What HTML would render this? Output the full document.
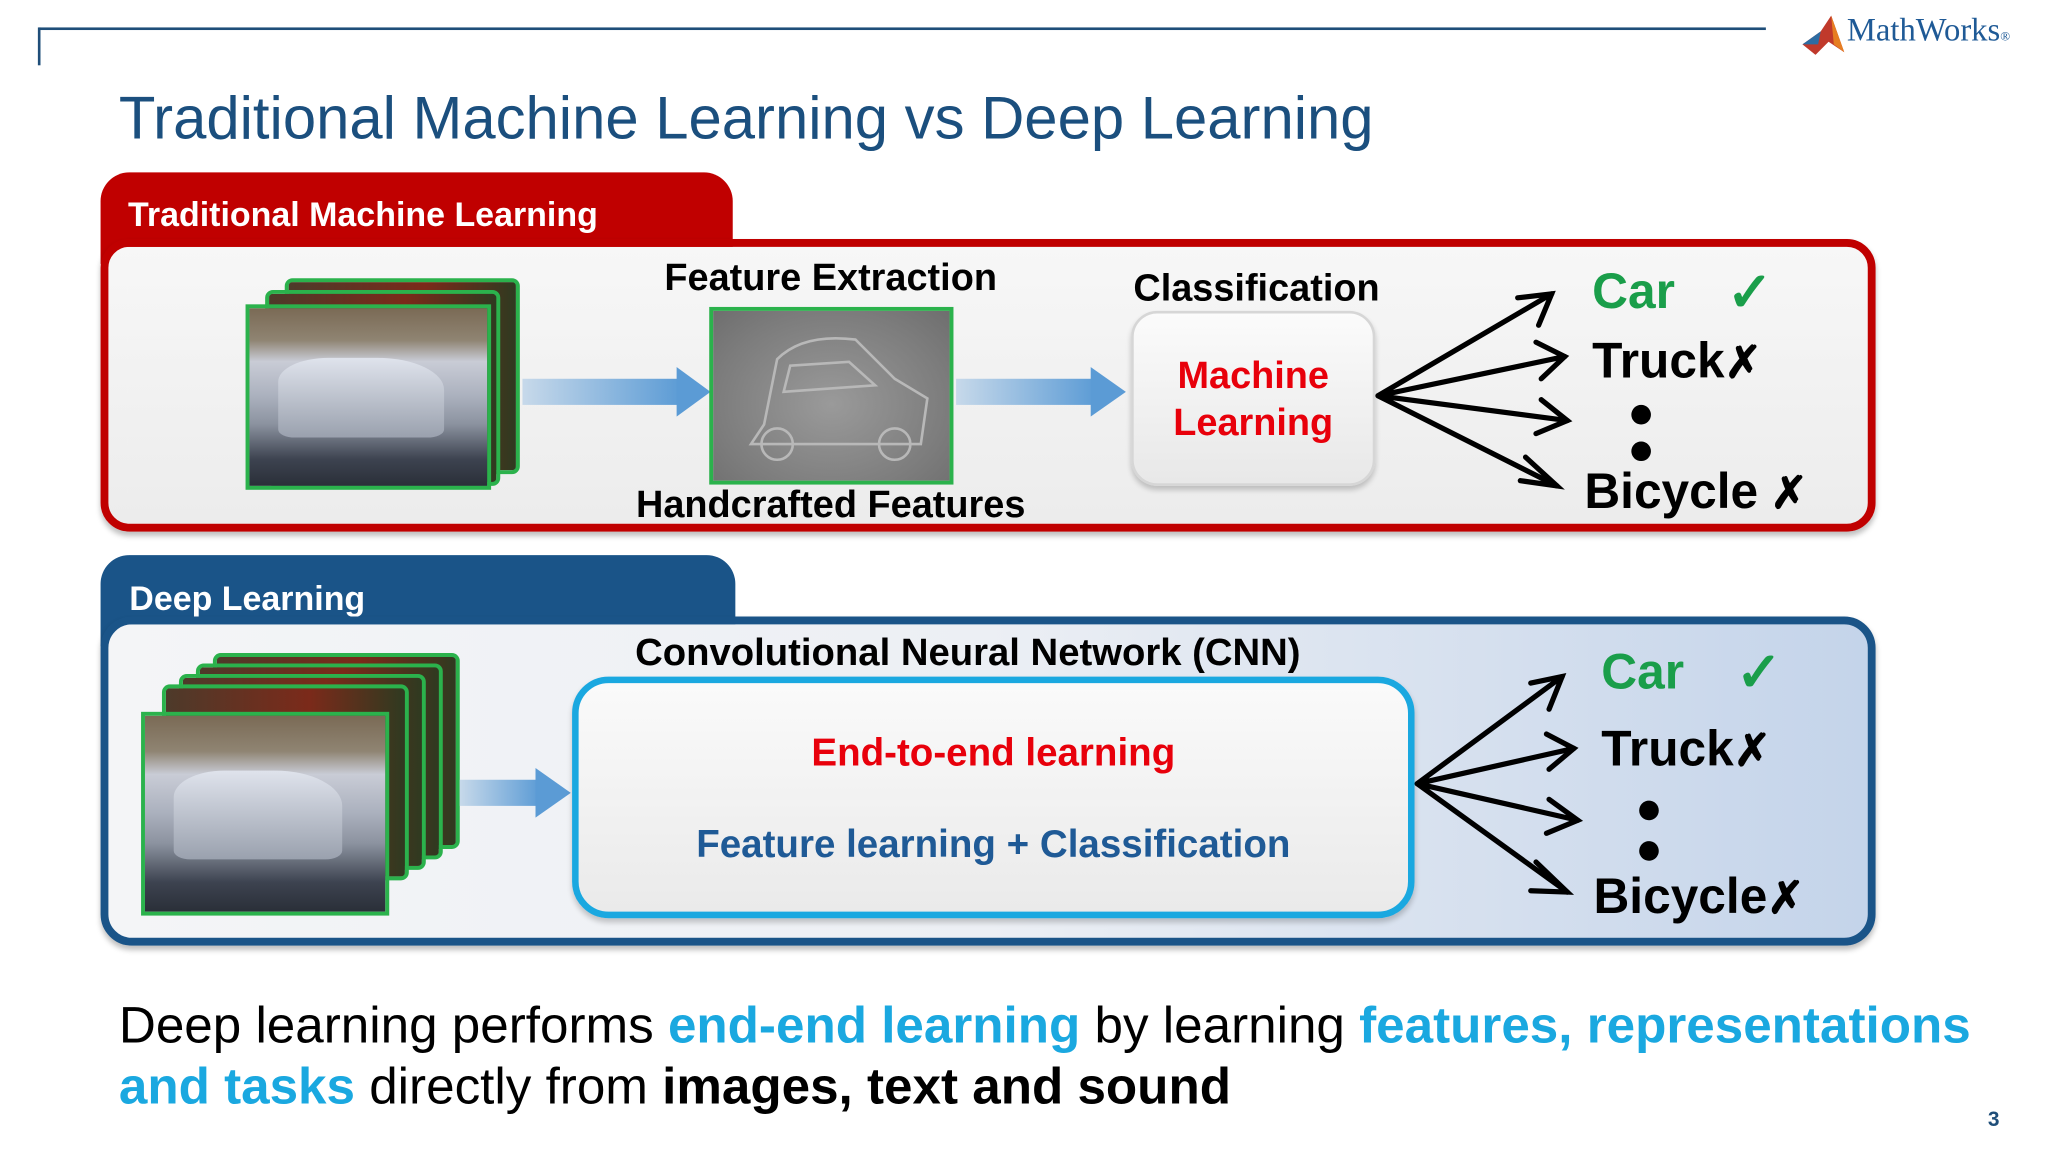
<!DOCTYPE html>
<html><head><meta charset="utf-8"><style>
html,body{margin:0;padding:0;background:#fff;}
body{width:2048px;height:1152px;overflow:hidden;position:relative;}
#w{position:absolute;left:0;top:0;width:1568px;height:882px;transform:scale(1.306122);transform-origin:0 0;font-family:"Liberation Sans",Arial,sans-serif;}
.a{position:absolute;}
.b{font-weight:bold;}
.c{white-space:nowrap;}
.photo{position:absolute;border:3px solid #2bb24c;box-sizing:border-box;
background:linear-gradient(180deg,#7a6a55 0%,#8f8472 18%,#c9ccd6 30%,#aab0bd 50%,#8c93a0 65%,#3d4350 85%,#2a2f38 100%);}
.photo::after{content:"";position:absolute;left:12%;top:28%;width:70%;height:45%;border-radius:30% 40% 10% 10%;background:linear-gradient(180deg,#dfe3ec,#9aa1ae);}
.back{position:absolute;border:3px solid #2bb24c;box-sizing:border-box;background:linear-gradient(90deg,#4d3a2a,#7b2a1a 60%,#2f3a20);border-radius:6px;}
.dot{position:absolute;width:15px;height:15px;border-radius:50%;background:#000;}
</style></head><body><div id="w">
<div class="a" style="left:30px;top:21px;width:1322px;height:2px;background:#1f4e79"></div>
<div class="a" style="left:29px;top:21px;width:2px;height:29px;background:#1f4e79"></div>
<svg class="a" style="left:1378px;top:10px" width="36" height="32"><polygon points="2,24 16,14 24,2 34,30 22,22 12,32" fill="#c0392b"/><polygon points="2,24 16,14 14,24" fill="#2d6ca2"/><polygon points="24,2 34,30 26,24" fill="#e67e22"/></svg>
<div class="a c" style="left:1414px;top:10px;font-family:'Liberation Serif',serif;font-size:25px;color:#1f5a96">MathWorks<span style="font-size:10px">®</span></div>
<div class="a c" style="left:91px;top:65px;font-size:45.8px;color:#1b4f7e">Traditional Machine Learning vs Deep Learning</div>

<div class="a" style="left:77px;top:132px;width:484px;height:70px;background:#c00000;border-radius:22px 22px 0 0"></div>
<div class="a c b" style="left:98px;top:149px;font-size:26px;color:#fff">Traditional Machine Learning</div>
<div class="a" style="left:77px;top:183px;width:1359px;height:224px;box-sizing:border-box;border:6px solid #c00000;border-radius:22px;background:linear-gradient(180deg,#f7f7f7,#ececec);box-shadow:0 3px 4px rgba(0,0,0,.25)"></div>
<div class="back" style="left:218px;top:213px;width:180px;height:150px"></div>
<div class="back" style="left:203px;top:222px;width:180px;height:150px"></div>
<div class="photo" style="left:188px;top:233px;width:188px;height:142px"></div>
<div class="a" style="left:400px;top:290px;width:122px;height:20px;background:linear-gradient(90deg,#c7d9ea,#5b9bd5)"></div>
<svg class="a" style="left:518px;top:281px" width="28" height="38"><polygon points="0,0 26,19 0,38" fill="#5b9bd5"/></svg>
<div class="a" style="left:543px;top:235px;width:187px;height:136px;box-sizing:border-box;border:3px solid #2bb24c;background:radial-gradient(ellipse at 50% 55%,#9a9a9a,#7c7c7c 70%,#6e6e6e)"></div>
<svg class="a" style="left:555px;top:245px" width="165" height="115" fill="none" stroke="#b8b8b8" stroke-width="2"><path d="M30,80 L40,30 Q60,10 100,15 L130,45 L155,60 L150,95 L20,95 Z"/><circle cx="40" cy="95" r="12"/><circle cx="130" cy="95" r="12"/><path d="M50,35 L95,32 L115,50 L45,55Z"/></svg>
<div class="a" style="left:732px;top:290px;width:108px;height:20px;background:linear-gradient(90deg,#c7d9ea,#5b9bd5)"></div>
<svg class="a" style="left:835px;top:281px" width="28" height="38"><polygon points="0,0 27,19 0,38" fill="#5b9bd5"/></svg>
<div class="a c b" style="left:486px;top:197px;font-size:29px;width:300px;text-align:center">Feature Extraction</div>
<div class="a c b" style="left:466px;top:371px;font-size:29px;width:340px;text-align:center">Handcrafted Features</div>
<div class="a c b" style="left:852px;top:205px;font-size:29px;width:220px;text-align:center">Classification</div>
<div class="a" style="left:866px;top:238px;width:187px;height:134px;box-sizing:border-box;border:2px solid #d6d6d6;border-radius:20px;background:linear-gradient(180deg,#fbfbfb,#e8e8e8);box-shadow:0 3px 4px rgba(0,0,0,.2)"></div>
<div class="a b" style="left:856px;top:270px;width:207px;text-align:center;font-size:29px;line-height:36px;color:#e8000b">Machine<br>Learning</div>
<div class="a c b" style="left:1219px;top:203px;font-size:38px;color:#1a9e4a">Car</div>
<div class="a c b" style="left:1322px;top:199px;font-size:42px;color:#1a9e4a">✓</div>
<div class="a c b" style="left:1219px;top:256px;font-size:38px">Truck<span style="font-size:34px">✗</span></div>
<div class="dot" style="left:1249px;top:310px"></div><div class="dot" style="left:1249px;top:338px"></div>
<div class="a c b" style="left:1213px;top:356px;font-size:38px">Bicycle<span style="font-size:34px"> ✗</span></div>

<div class="a" style="left:77px;top:425px;width:486px;height:70px;background:#1a5488;border-radius:22px 22px 0 0"></div>
<div class="a c b" style="left:99px;top:443px;font-size:26px;color:#fff">Deep Learning</div>
<div class="a" style="left:77px;top:472px;width:1359px;height:252px;box-sizing:border-box;border:6px solid #1a5488;border-radius:24px;background:linear-gradient(90deg,#f4f5f7 0%,#eceff4 50%,#c4d4ea 100%);box-shadow:0 3px 4px rgba(0,0,0,.25)"></div>
<div class="back" style="left:163px;top:500px;width:189px;height:150px"></div>
<div class="back" style="left:150px;top:508px;width:189px;height:150px"></div>
<div class="back" style="left:137px;top:516px;width:189px;height:150px"></div>
<div class="back" style="left:124px;top:524px;width:189px;height:150px"></div>
<div class="photo" style="left:108px;top:545px;width:190px;height:156px"></div>
<div class="a" style="left:352px;top:597px;width:62px;height:20px;background:linear-gradient(90deg,#c7d9ea,#5b9bd5)"></div>
<svg class="a" style="left:410px;top:588px" width="28" height="38"><polygon points="0,0 27,19 0,38" fill="#5b9bd5"/></svg>
<div class="a c b" style="left:441px;top:483px;font-size:29.3px;width:600px;text-align:center">Convolutional Neural Network (CNN)</div>
<div class="a" style="left:438px;top:518px;width:645px;height:185px;box-sizing:border-box;border:5px solid #1aa8e0;border-radius:28px;background:linear-gradient(180deg,#fafafa,#eaeaea);box-shadow:0 3px 4px rgba(0,0,0,.2)"></div>
<div class="a c b" style="left:438px;top:560px;width:645px;text-align:center;font-size:29.5px;color:#e8000b">End-to-end learning</div>
<div class="a c b" style="left:438px;top:630px;width:645px;text-align:center;font-size:29.5px;color:#1f5a96">Feature learning + Classification</div>
<div class="a c b" style="left:1226px;top:494px;font-size:38px;color:#1a9e4a">Car</div>
<div class="a c b" style="left:1329px;top:490px;font-size:42px;color:#1a9e4a">✓</div>
<div class="a c b" style="left:1226px;top:553px;font-size:38px">Truck<span style="font-size:34px">✗</span></div>
<div class="dot" style="left:1255px;top:613px"></div><div class="dot" style="left:1255px;top:644px"></div>
<div class="a c b" style="left:1220px;top:666px;font-size:38px">Bicycle<span style="font-size:34px">✗</span></div>

<svg class="a" style="left:0;top:0" width="1568" height="882" fill="none" stroke="#000" stroke-width="4" stroke-linecap="round">
<path d="M1055,303 L1188,225 M1055,303 L1198,273 M1055,303 L1200,322 M1055,303 L1192,372"/>
<path d="M1162,228 L1188,225 L1178,249 M1176,262 L1198,273 L1180,290 M1180,306 L1200,322 L1176,332 M1168,350 L1192,372 L1164,368"/>
<path d="M1085,600 L1196,518 M1085,600 L1205,573 M1085,600 L1208,628 M1085,600 L1200,683"/>
<path d="M1172,523 L1196,518 L1186,543 M1184,562 L1205,573 L1186,589 M1186,612 L1208,628 L1184,638 M1176,660 L1200,683 L1172,682"/>
</svg>

<div class="a c" style="left:91px;top:762px;font-size:39.2px;line-height:47px">Deep learning performs <b style="color:#1aa8e0">end-end learning</b> by learning <b style="color:#1aa8e0">features, representations</b><br><b style="color:#1aa8e0">and tasks</b> directly from <b>images, text and sound</b></div>
<div class="a b" style="left:1522px;top:849px;font-size:16px;color:#1f4e79">3</div>
</div></body></html>
